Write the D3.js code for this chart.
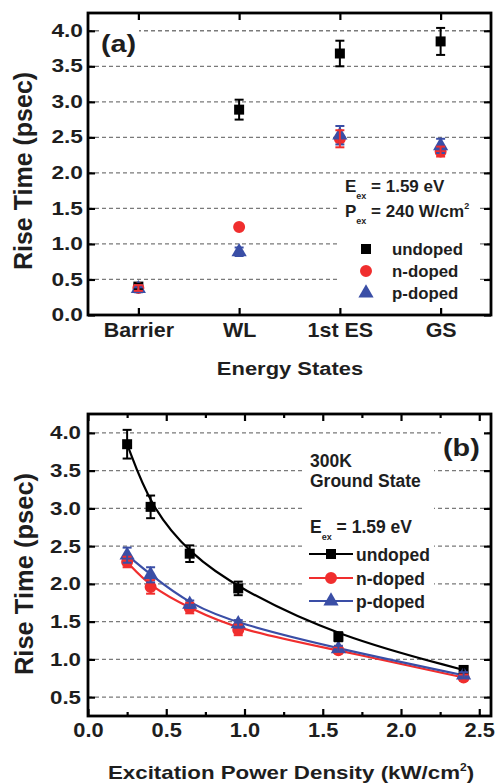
<!DOCTYPE html>
<html><head><meta charset="utf-8">
<script src="https://cdn.jsdelivr.net/npm/d3@7/dist/d3.min.js"></script>
<style>
body{margin:0;background:#fff}
svg{display:block}
text{font-family:"Liberation Sans",Arial,sans-serif;font-weight:bold;fill:#1e1e1e}
</style>
</head><body>
<svg id="c" width="496" height="783"></svg>
<script>
// ---------- Panel (a) data ----------
const statesA = ["Barrier", "WL", "1st ES", "GS"];
const undopedA = [0.40, 2.89, 3.68, 3.85];
const undopedAErr = [0.04, 0.14, 0.18, 0.19];
const nDopedA = [0.38, 1.24, 2.48, 2.30];
const nDopedAErr = [0.04, 0.03, 0.12, 0.07];
const pDopedA = [0.37, 0.89, 2.53, 2.38];
const pDopedAErr = [0.05, 0.06, 0.13, 0.10];
const yTicksA = [0, 0.5, 1.0, 1.5, 2.0, 2.5, 3.0, 3.5, 4.0];

// ---------- Panel (b) data ----------
const powerB = [0.25, 0.40, 0.65, 0.96, 1.60, 2.40];
const undopedB = [3.85, 3.02, 2.40, 1.94, 1.30, 0.86];
const undopedBErr = [0.19, 0.15, 0.11, 0.09, 0.06, 0.04];
const nDopedB = [2.29, 1.96, 1.68, 1.39, 1.12, 0.76];
const nDopedBErr = [0.07, 0.09, 0.07, 0.07, 0.04, 0.04];
const pDopedB = [2.38, 2.12, 1.73, 1.47, 1.14, 0.79];
const pDopedBErr = [0.10, 0.10, 0.05, 0.05, 0.04, 0.04];
const xTicksB = [0, 0.5, 1.0, 1.5, 2.0, 2.5];
const xMinorB = [0.25, 0.75, 1.25, 1.75, 2.25];
const yTicksB = [0.5, 1.0, 1.5, 2.0, 2.5, 3.0, 3.5, 4.0];

const seriesNames = ["undoped", "n-doped", "p-doped"];
const colors = {"undoped": "#000000", "n-doped": "#f02e2e", "p-doped": "#3a4ea6"};

const svg = d3.select("#c");

function stretch(sel, sx) {
  sel.each(function () {
    const t = d3.select(this);
    const x = +t.attr("x") || 0, y = +t.attr("y") || 0;
    t.attr("transform", `translate(${x},${y}) scale(${sx},1)`).attr("x", 0).attr("y", 0);
  });
}
function addText(g, x, y, str, size, sx, anchor) {
  const t = g.append("text").attr("x", x).attr("y", y).attr("font-size", size)
    .attr("text-anchor", anchor || "start").text(str);
  stretch(t, sx || 1);
  return t;
}
const sym = {
  "undoped": d3.symbol().type(d3.symbolSquare).size(100),
  "n-doped": d3.symbol().type(d3.symbolCircle).size(113),
  "p-doped": d3.symbol().type(d3.symbolTriangle).size(100)
};
function drawMarkers(g, xs, ys, name) {
  g.selectAll(null).data(xs.map((x, i) => [x, ys[i]])).join("path")
    .attr("d", sym[name]()).attr("fill", colors[name])
    .attr("transform", d => `translate(${d[0]},${d[1]})`);
}
function drawErr(g, xs, vals, errs, yScale, name) {
  const c = colors[name];
  xs.forEach((x, i) => {
    const y1 = yScale(vals[i] + errs[i]), y2 = yScale(vals[i] - errs[i]);
    g.append("line").attr("x1", x).attr("x2", x).attr("y1", y1).attr("y2", y2).attr("stroke", c).attr("stroke-width", 2);
    [y1, y2].forEach(yy => g.append("line").attr("x1", x - 4.5).attr("x2", x + 4.5).attr("y1", yy).attr("y2", yy).attr("stroke", c).attr("stroke-width", 2));
  });
}
function grid(g, ticks, yScale, x0, x1) {
  g.selectAll(null).data(ticks).join("line")
    .attr("x1", x0).attr("x2", x1).attr("y1", d => yScale(d)).attr("y2", d => yScale(d))
    .attr("stroke", "#7a7a7a").attr("stroke-width", 1.3).attr("stroke-dasharray", "4,3");
}
function styleAxis(g) {
  g.select(".domain").remove();
  g.selectAll(".tick line").attr("stroke", "#000").attr("stroke-width", 2.2);
  g.selectAll("text").attr("fill", "#1e1e1e").style("font-weight", "bold");
}

// ================= Panel (a) =================
const A = {l: 88, r: 491, t: 13, b: 315};
const xA = d3.scalePoint().domain(statesA).range([A.l, A.r]).padding(0.5);
const yA = d3.scaleLinear().domain([0, 4.25]).range([A.b, A.t]);
const gA = svg.append("g");

grid(gA, yTicksA.filter(d => d > 0), yA, A.l, A.r);
gA.append("rect").attr("x", 340).attr("y", 178).attr("width", 139).attr("height", 128).attr("fill", "#fff");
gA.append("rect").attr("x", 99).attr("y", 26).attr("width", 40).attr("height", 33).attr("fill", "#fff");

const axLA = gA.append("g").attr("transform", `translate(${A.l},0)`)
  .call(d3.axisLeft(yA).tickValues(yTicksA).tickFormat(d3.format(".1f")).tickSizeInner(-7).tickSizeOuter(0).tickPadding(5));
styleAxis(axLA); axLA.selectAll("text").attr("font-size", 17.5); stretch(axLA.selectAll("text"), 1.3);
const axRA = gA.append("g").attr("transform", `translate(${A.r},0)`)
  .call(d3.axisRight(yA).tickValues(yTicksA).tickFormat("").tickSizeInner(-7).tickSizeOuter(0));
styleAxis(axRA);
const axBA = gA.append("g").attr("transform", `translate(0,${A.b})`)
  .call(d3.axisBottom(xA).tickSizeInner(-7).tickSizeOuter(0).tickPadding(8));
styleAxis(axBA); axBA.selectAll("text").attr("font-size", 19.5); stretch(axBA.selectAll("text"), 1.1);
const axTA = gA.append("g").attr("transform", `translate(0,${A.t})`)
  .call(d3.axisTop(xA).tickFormat("").tickSizeInner(-7).tickSizeOuter(0));
styleAxis(axTA);

const xsA = statesA.map(s => xA(s));
const dataA = {"undoped": [undopedA, undopedAErr], "n-doped": [nDopedA, nDopedAErr], "p-doped": [pDopedA, pDopedAErr]};
["undoped", "n-doped", "p-doped"].forEach(n => drawMarkers(gA, xsA, dataA[n][0].map(v => yA(v)), n));
["undoped", "p-doped", "n-doped"].forEach(n => drawErr(gA, xsA, dataA[n][0], dataA[n][1], yA, n));

gA.append("rect").attr("x", A.l).attr("y", A.t).attr("width", A.r - A.l).attr("height", A.b - A.t)
  .attr("fill", "none").attr("stroke", "#000").attr("stroke-width", 2.8);

addText(gA, 101, 51.5, "(a)", 24, 1.2);
const eA = gA.append("text").attr("x", 345).attr("y", 192.3).attr("font-size", 17);
eA.append("tspan").text("E");
eA.append("tspan").attr("font-size", 9).attr("dy", 7).text("ex");
eA.append("tspan").attr("dy", -7).text(" = 1.59 eV");
const pA = gA.append("text").attr("x", 345).attr("y", 216.7).attr("font-size", 17);
pA.append("tspan").text("P");
pA.append("tspan").attr("font-size", 9).attr("dy", 7).text("ex");
pA.append("tspan").attr("dy", -7).text(" = 240 W/cm");
pA.append("tspan").attr("font-size", 9).attr("dy", -8).text("2");
const legYA = [249, 271, 293];
seriesNames.forEach((n, i) => {
  drawMarkers(gA, [366], [legYA[i]], n);
  addText(gA, 392, legYA[i] + 6, n, 16.5, 1.02);
});
addText(gA, 290, 375, "Energy States", 18.6, 1.18, "middle");
gA.append("text").attr("transform", "translate(32,171) rotate(-90)").attr("text-anchor", "middle")
  .attr("font-size", 25).text("Rise Time (psec)");

// ================= Panel (b) =================
const B = {l: 88, r: 491, t: 414, b: 716};
const xB = d3.scaleLinear().domain([0, 2.575]).range([B.l, B.r]);
const yB = d3.scaleLinear().domain([0.25, 4.25]).range([B.b, B.t]);
const gB = svg.append("g");

grid(gB, yTicksB, yB, B.l, B.r);
gB.append("rect").attr("x", 305).attr("y", 442).attr("width", 129).attr("height", 167).attr("fill", "#fff");
gB.append("rect").attr("x", 441).attr("y", 426).attr("width", 45).attr("height", 38).attr("fill", "#fff");

const axLB = gB.append("g").attr("transform", `translate(${B.l},0)`)
  .call(d3.axisLeft(yB).tickValues(yTicksB).tickFormat(d3.format(".1f")).tickSizeInner(-7).tickSizeOuter(0).tickPadding(7));
styleAxis(axLB); axLB.selectAll("text").attr("font-size", 18.6); stretch(axLB.selectAll("text"), 1.2);
const axRB = gB.append("g").attr("transform", `translate(${B.r},0)`)
  .call(d3.axisRight(yB).tickValues(yTicksB).tickFormat("").tickSizeInner(-7).tickSizeOuter(0));
styleAxis(axRB);
const axBB = gB.append("g").attr("transform", `translate(0,${B.b})`)
  .call(d3.axisBottom(xB).tickValues(xTicksB).tickFormat(d3.format(".1f")).tickSizeInner(-7).tickSizeOuter(0).tickPadding(7.5));
styleAxis(axBB); axBB.selectAll("text").attr("font-size", 19.5); stretch(axBB.selectAll("text"), 1.12);
const axBBm = gB.append("g").attr("transform", `translate(0,${B.b})`)
  .call(d3.axisBottom(xB).tickValues(xMinorB).tickFormat("").tickSizeInner(-4).tickSizeOuter(0));
styleAxis(axBBm);
const axTB = gB.append("g").attr("transform", `translate(0,${B.t})`)
  .call(d3.axisTop(xB).tickValues(xTicksB).tickFormat("").tickSizeInner(-7).tickSizeOuter(0));
styleAxis(axTB);
const axTBm = gB.append("g").attr("transform", `translate(0,${B.t})`)
  .call(d3.axisTop(xB).tickValues(xMinorB).tickFormat("").tickSizeInner(-4).tickSizeOuter(0));
styleAxis(axTBm);

const xsB = powerB.map(v => xB(v));
const dataB = {"undoped": [undopedB, undopedBErr], "n-doped": [nDopedB, nDopedBErr], "p-doped": [pDopedB, pDopedBErr]};
const line = d3.line().x(d => xB(d[0])).y(d => yB(d[1])).curve(d3.curveBasis);
seriesNames.forEach(n => {
  gB.append("path").attr("d", line(powerB.map((p, i) => [p, dataB[n][0][i]])))
    .attr("fill", "none").attr("stroke", colors[n]).attr("stroke-width", 2.2);
});
seriesNames.forEach(n => drawMarkers(gB, xsB, dataB[n][0].map(v => yB(v)), n));
["undoped", "n-doped", "p-doped"].forEach(n => drawErr(gB, xsB, dataB[n][0], dataB[n][1], yB, n));

gB.append("rect").attr("x", B.l).attr("y", B.t).attr("width", B.r - B.l).attr("height", B.b - B.t)
  .attr("fill", "none").attr("stroke", "#000").attr("stroke-width", 2.8);

addText(gB, 443, 455.5, "(b)", 24, 1.2);
addText(gB, 310, 466.7, "300K", 17.5, 1);
addText(gB, 310, 487.3, "Ground State", 17.5, 1);
const eB = gB.append("text").attr("x", 310).attr("y", 533.3).attr("font-size", 17.5);
eB.append("tspan").text("E");
eB.append("tspan").attr("font-size", 9).attr("dy", 7).text("ex");
eB.append("tspan").attr("dy", -7).text(" = 1.59 eV");
const legYB = [554, 578, 601];
seriesNames.forEach((n, i) => {
  gB.append("line").attr("x1", 309).attr("x2", 353).attr("y1", legYB[i]).attr("y2", legYB[i])
    .attr("stroke", colors[n]).attr("stroke-width", 2.2);
  drawMarkers(gB, [331], [legYB[i]], n);
  addText(gB, 356, legYB[i] + 6.5, n, 17.5, 1);
});
const xt = gB.append("text").attr("font-size", 18.6).attr("text-anchor", "middle")
  .attr("transform", "translate(291,779) scale(1.2,1)");
xt.append("tspan").text("Excitation Power Density (kW/cm");
xt.append("tspan").attr("font-size", 10).attr("dy", -8).text("2");
xt.append("tspan").attr("dy", 8).text(")");
gB.append("text").attr("transform", "translate(33,574) rotate(-90)").attr("text-anchor", "middle")
  .attr("font-size", 25.5).text("Rise Time (psec)");
</script>
</body></html>
